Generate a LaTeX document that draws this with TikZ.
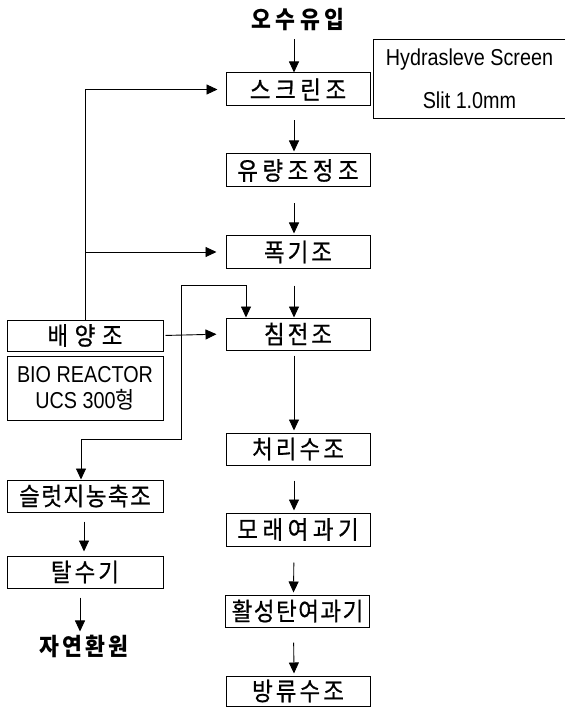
\documentclass[tikz,border=0pt]{standalone}
\usepackage{fontspec}
\newfontfamily\krA[LetterSpace=18, FakeStretch=0.9, FakeBold=0.6]{Noto Sans CJK KR}
\newfontfamily\krB[LetterSpace=12, FakeStretch=0.9, FakeBold=0.6]{Noto Sans CJK KR}
\newfontfamily\krC[LetterSpace=6, FakeStretch=0.9, FakeBold=0.6]{Noto Sans CJK KR}
\newfontfamily\krD[LetterSpace=26, FakeStretch=0.9, FakeBold=0.6]{Noto Sans CJK KR}
\newfontfamily\krP[FakeStretch=0.9]{Noto Sans CJK KR}
\newfontfamily\krT[LetterSpace=18, FakeStretch=0.9]{Noto Sans CJK KR}
\newfontfamily\krU[LetterSpace=12, FakeStretch=0.9]{Noto Sans CJK KR}
\newfontfamily\lat[FakeStretch=0.86]{Liberation Sans}
\usetikzlibrary{arrows.meta}
\begin{document}
\begin{tikzpicture}[x=1pt,y=-1pt,
  box/.style={draw, line width=1pt, minimum width=144pt, minimum height=33pt, inner sep=0pt,
    font=\fontsize{25}{27}\selectfont\krA},
  boxB/.style={box, font=\fontsize{25}{27}\selectfont\krB},
  boxC/.style={box, font=\fontsize{25}{27}\selectfont\krC},
  lbox/.style={box, minimum width=156pt},
  arr/.style={line width=0.9pt, -{Triangle[length=11pt,width=10pt]}},
  lbl/.style={inner sep=0pt, font=\fontsize{24}{26}\selectfont\bfseries}]
\useasboundingbox (0,0) rectangle (565,708);
% main column
\node[lbl, font=\fontsize{24}{26}\selectfont\krT\bfseries] (in) at (298,20) {오수유입};
\node[box] (scr) at (298,89.5) {스크린조};
\node[box] (flow) at (298,170.5) {유량조정조};
\node[boxB, minimum height=32pt] (aer) at (298,252) {폭기조};
\node[boxB, minimum height=32pt] (sed) at (298,334) {침전조};
\node[boxB, minimum height=32pt] (tr) at (298,449) {처리수조};
\node[box] (sand) at (298,529.5) {모래여과기};
\node[boxC, minimum height=32pt] (carb) at (297.5,611) {활성탄여과기};
\node[boxB, minimum height=30pt] (dis) at (298,691) {방류수조};
% Hydrasleve note
\node[inner sep=0pt, minimum width=191pt, minimum height=78pt, align=center,
  font=\fontsize{23}{43}\selectfont\lat] (hyd) at (469.5,79) {Hydrasleve Screen\\Slit 1.0mm};
\draw[line width=1pt] (hyd.north east) -- (hyd.north west) -- (hyd.south west) -- (hyd.south east);
% left column
\node[lbox, minimum height=31pt, font=\fontsize{25}{27}\selectfont\krD] (cult) at (85,335.5) {배양조};
\node[lbox, minimum height=64pt, align=center, font=\fontsize{23}{26}\selectfont\lat] (bio) at (85,388)
  {BIO REACTOR\\UCS 300{\fontsize{23}{26}\selectfont\krP 형}};
\node[lbox, minimum height=32pt, font=\fontsize{25}{27}\selectfont\krC] (slu) at (85,496) {슬럿지농축조};
\node[lbox, minimum height=32pt, font=\fontsize{25}{27}\selectfont\krB] (dew) at (85,572) {탈수기};
\node[lbl, font=\fontsize{24}{26}\selectfont\krU\bfseries] (nat) at (84,646) {자연환원};
% main flow arrows
\draw[arr, shorten <=8pt] ([xshift=-4pt]in.south) -- ([xshift=-4pt]scr.north);
\draw[arr, shorten <=14pt, shorten >=2pt] ([xshift=-4pt]scr.south) -- ([xshift=-4pt]flow.north);
\draw[arr, shorten <=16pt, shorten >=2pt] ([xshift=-4pt]flow.south) -- ([xshift=-4pt]aer.north);
\draw[arr, shorten <=17pt] ([xshift=-4pt]aer.south) -- ([xshift=-4pt]sed.north);
\draw[arr, shorten <=5pt, shorten >=2pt] ([xshift=-4pt]sed.south) -- ([xshift=-4pt]tr.north);
\draw[arr, shorten <=15pt, shorten >=2pt] ([xshift=-4pt]tr.south) -- ([xshift=-4pt]sand.north);
\draw[arr, shorten <=16pt, shorten >=2pt] ([xshift=-4pt]sand.south) -- ([xshift=-4pt]carb.north);
\draw[arr, shorten <=15pt, shorten >=2pt] ([xshift=-4pt]carb.south) -- ([xshift=-4pt]dis.north);
% return lines from culture tank
\draw[arr, shorten >=8pt] (cult.north) |- (scr.west);
\draw[arr, shorten >=9pt] (cult.north |- aer.west) -- (aer.west);
\draw[arr, shorten <=2pt, shorten >=9pt] (cult.east) -- (sed.west);
% sludge line
\coordinate (j) at (246,285);
\coordinate (k) at (181,439);
\draw[arr] (j) -- (j |- sed.north);
\draw[arr] (j) -| (k) -| ([xshift=-4pt]slu.north);
% left column arrows
\draw[arr, shorten <=9pt, shorten >=4pt] ([xshift=-1pt]slu.south) -- ([xshift=-1pt]dew.north);
\draw[arr, shorten <=9pt, shorten >=3pt] ([xshift=-5pt]dew.south) -- ([xshift=-4pt]nat.north);
\end{tikzpicture}
\end{document}
